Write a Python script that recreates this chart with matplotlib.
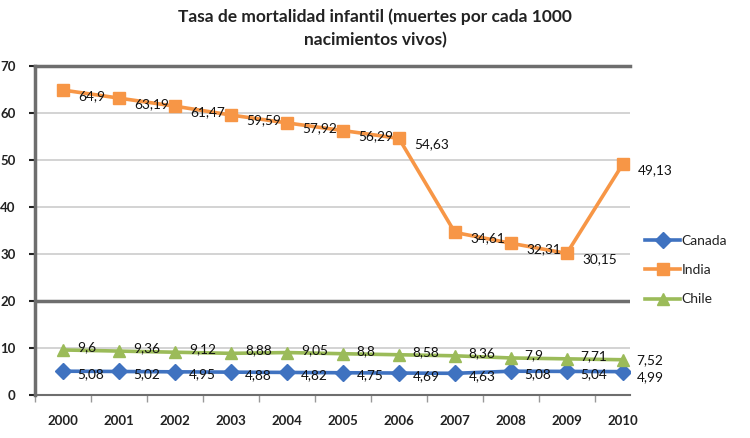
import numpy as np
import matplotlib.pyplot as plt

years = ['2000', '2001', '2002', '2003', '2004', '2005', '2006', '2007', '2008', '2009', '2010']
canada = [5.08, 5.02, 4.95, 4.88, 4.82, 4.75, 4.69, 4.63, 5.08, 5.04, 4.99]
india = [64.9, 63.19, 61.47, 59.59, 57.92, 56.29, 54.63, 34.61, 32.31, 30.15, 49.13]
chile = [9.6, 9.36, 9.12, 8.88, 9.05, 8.8, 8.58, 8.36, 7.9, 7.71, 7.52]

plt.rcParams['font.family'] = ['Lato', 'DejaVu Sans']

fig = plt.figure(figsize=(7.5, 4.38), dpi=100)
ax = fig.add_axes([0.047, 0.098, 0.793, 0.751])

x = np.arange(len(years))

def fmt(v):
    return ('%g' % v).replace('.', ',')

series = [
    ('Canada', canada, '#3f72c0', 'D', 8),
    ('India', india, '#f79646', 's', 8),
    ('Chile', chile, '#9bbb59', '^', 9),
]
for name, vals, col, mk, ms in series:
    ax.plot(x, vals, color=col, lw=2.6, marker=mk, ms=ms, label=name, zorder=3)

lab_kw = dict(fontsize=9.8, va='center', ha='left', color='#111111',
              textcoords='offset points')
for i, v in enumerate(india):
    ax.annotate(fmt(v), (x[i], v), xytext=(11, -4), **lab_kw)
for i, v in enumerate(chile):
    dy = 2 if i < 10 else 0
    ax.annotate(fmt(v), (x[i], v), xytext=(10, dy), **lab_kw)
for i, v in enumerate(canada):
    dy = -2 if i < 10 else -4
    ax.annotate(fmt(v), (x[i], v), xytext=(10, dy), **lab_kw)

ax.set_xlim(-0.5, 10.13)
ax.set_ylim(0, 70)
ax.set_yticks(range(0, 71, 10))
ax.set_xticks(x)
ax.set_xticklabels(years, fontsize=9.5, fontweight='bold', color='#222222')
ax.tick_params(axis='x', length=0, pad=14)
ax.tick_params(axis='y', labelsize=9.5, length=4, width=1.5, colors='#222222', pad=10)
for lab in ax.get_yticklabels():
    lab.set_fontweight('bold')
ax.set_xticks(np.arange(-0.5, 10.5, 1), minor=True)
ax.tick_params(axis='x', which='minor', length=5, width=1, color='#999999')

for yv in [10, 30, 40, 50, 60]:
    ax.axhline(yv, color='#cccccc', lw=1.2, zorder=1)
ax.axhline(20, color='#6e6e6e', lw=2.5, zorder=1)

ax.spines['right'].set_visible(False)
ax.spines['top'].set_color('#6e6e6e')
ax.spines['top'].set_linewidth(2.5)
ax.spines['left'].set_color('#6e6e6e')
ax.spines['left'].set_linewidth(2.5)
ax.spines['bottom'].set_color('#6e6e6e')
ax.spines['bottom'].set_linewidth(1.5)

fig.text(0.5, 0.935, 'Tasa de mortalidad infantil (muertes por cada 1000\nnacimientos vivos)',
         ha='center', va='center', fontsize=12.5, fontweight='bold', color='#222222',
         linespacing=1.55)

leg = ax.legend(loc='center left', bbox_to_anchor=(1.005, 0.38), frameon=False,
                fontsize=10, handlelength=2.5, labelspacing=1.25, handletextpad=0.1)
for t in leg.get_texts():
    t.set_color('#222222')

fig.savefig('out.png', dpi=100)
